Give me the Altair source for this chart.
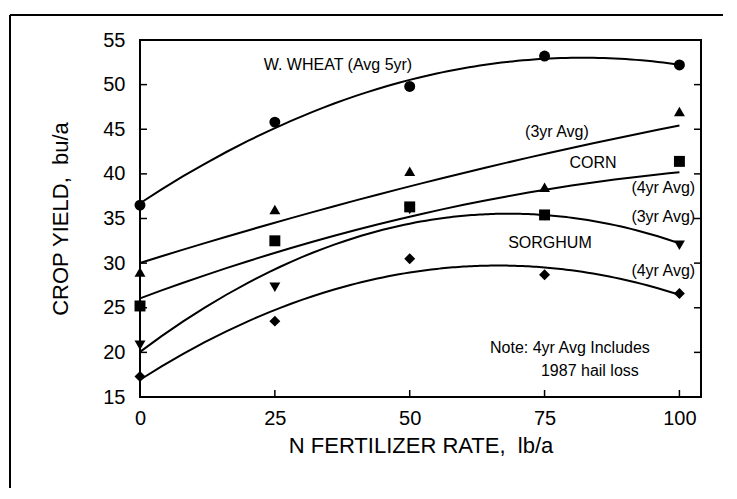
import altair as alt
import pandas as pd

# ---- data ----
rates = [0, 25, 50, 75, 100]
wheat_5yr = [36.5, 45.8, 49.8, 53.2, 52.2]
corn_3yr = [29.0, 36.0, 40.3, 38.5, 47.0]
corn_4yr = [25.2, 32.5, 36.3, 35.4, 41.4]
sorghum_3yr = [20.8, 27.3, 36.0, 35.3, 32.0]
sorghum_4yr = [17.3, 23.5, 30.5, 28.7, 26.6]

series_names = ["W. Wheat 5yr", "Corn 3yr", "Corn 4yr", "Sorghum 3yr", "Sorghum 4yr"]
series_values = [wheat_5yr, corn_3yr, corn_4yr, sorghum_3yr, sorghum_4yr]
series_shapes = ["circle", "triangle-up", "square", "triangle-down", "diamond"]

x_ticks = [0, 25, 50, 75, 100]
y_ticks = [15, 20, 25, 30, 35, 40, 45, 50, 55]

label_texts = ["W. WHEAT (Avg 5yr)", "(3yr Avg)", "CORN", "(4yr Avg)", "(3yr Avg)",
               "SORGHUM", "(4yr Avg)", "Note: 4yr Avg Includes", "1987 hail loss"]
label_x = [36.7, 77.3, 84.0, 97.0, 97.0, 76.0, 97.0, 79.7, 83.4]
label_y = [52.2, 44.7, 41.2, 38.4, 35.2, 32.3, 29.1, 20.5, 17.9]

rows = []
for name, vals in zip(series_names, series_values):
    for r, v in zip(rates, vals):
        rows.append({"series": name, "rate": r, "yield": v})
df = pd.DataFrame(rows)
labels_df = pd.DataFrame({"text": label_texts, "x": label_x, "y": label_y})

W, H = 561, 357
PAD = {"left": 132, "top": 32, "right": 22, "bottom": 91}
FONT = "Liberation Sans"

x_scale = alt.Scale(domain=[0, 104], nice=False, zero=False)
y_scale = alt.Scale(domain=[15, 55], nice=False, zero=False)

x_axis = alt.Axis(values=x_ticks, title="N FERTILIZER RATE,\u00a0\u00a0lb/a", grid=False,
                  ticks=False, domain=False, labelPadding=11, labelFontSize=20,
                  labelFlush=False, titleFontSize=22, titlePadding=7,
                  titleFontWeight="normal")
y_axis = alt.Axis(values=y_ticks, title="CROP YIELD,\u00a0\u00a0bu/a", grid=False,
                  ticks=False, domain=False, labelPadding=15, labelFontSize=20,
                  labelFlush=False, titleFontSize=22, titlePadding=30,
                  titleFontWeight="normal")


def X(field):
    return alt.X(field, scale=x_scale, axis=x_axis)


def Y(field):
    return alt.Y(field, scale=y_scale, axis=y_axis)


points = alt.Chart(df).mark_point(filled=True, opacity=1, size=120, color="black").encode(
    x=X("rate:Q"),
    y=Y("yield:Q"),
    shape=alt.Shape("series:N", scale=alt.Scale(domain=series_names, range=series_shapes),
                    legend=None),
)

curves = alt.Chart(df).transform_regression(
    "rate", "yield", method="poly", order=2, groupby=["series"], extent=[0, 100]
).mark_line(color="black", strokeWidth=2).encode(
    x=X("rate:Q"),
    y=Y("yield:Q"),
    detail="series:N",
)

ytick_df = pd.DataFrame({"v": y_ticks[1:-1]})
xtick_df = pd.DataFrame({"v": x_ticks[1:]})
left_ticks = alt.Chart(ytick_df).mark_rule(color="black", strokeWidth=1.5).encode(
    y=Y("v:Q"), x=alt.value(0), x2=alt.value(7))
right_ticks = alt.Chart(ytick_df).mark_rule(color="black", strokeWidth=1.5).encode(
    y=Y("v:Q"), x=alt.value(W - 7), x2=alt.value(W))
bottom_ticks = alt.Chart(xtick_df).mark_rule(color="black", strokeWidth=1.5).encode(
    x=X("v:Q"), y=alt.value(H), y2=alt.value(H - 7))

texts = alt.Chart(labels_df).mark_text(font=FONT, fontSize=16, color="black").encode(
    x=X("x:Q"),
    y=Y("y:Q"),
    text="text:N",
)

one = pd.DataFrame({"a": [0]})
frame_left = alt.Chart(one).mark_rule(color="black", strokeWidth=2).encode(
    x=alt.value(-130), y=alt.value(-25), y2=alt.value(H + PAD["bottom"]))
frame_top = alt.Chart(one).mark_rule(color="black", strokeWidth=2).encode(
    x=alt.value(-130), x2=alt.value(W + PAD["right"]), y=alt.value(-25))

chart = alt.layer(
    curves, points, left_ticks, right_ticks, bottom_ticks, texts, frame_left, frame_top
).properties(
    width=W, height=H, padding=PAD, autosize=alt.AutoSizeParams(type="none"),
    background="white",
).configure_view(
    stroke="black", strokeWidth=2
).configure_axis(
    labelFont=FONT, titleFont=FONT, labelColor="black", titleColor="black",
)

chart.save("out.html", embed_options={"renderer": "svg", "actions": False})
